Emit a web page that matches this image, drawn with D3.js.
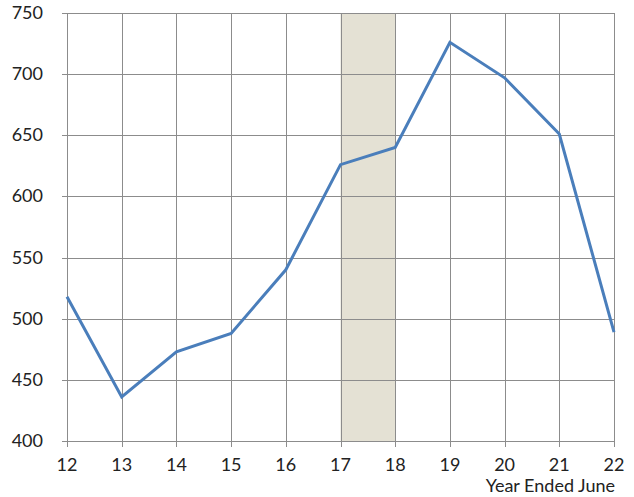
<html>
<head>
<script src="https://cdnjs.cloudflare.com/ajax/libs/d3/7.8.5/d3.min.js"></script>
<style>
body { margin: 0; background: white; }
svg text { font-family: Lato, "Open Sans", sans-serif; fill: #222; }
</style>
</head>
<body>
<svg id="canvas" width="634" height="497"></svg>
<script>
// chart data
var years = [12, 13, 14, 15, 16, 17, 18, 19, 20, 21, 22];
var values = [518, 436, 473, 488, 540, 626, 640, 726, 697, 651, 489];
var yTicks = [400, 450, 500, 550, 600, 650, 700, 750];
var band = [17, 18];
var xTitle = "Year Ended June";

var svg = d3.select("#canvas");
var plotL = 67, plotR = 614, plotT = 13, plotB = 441;

var x = d3.scaleLinear().domain([12, 22]).range([plotL, plotR]);
var y = d3.scaleLinear().domain([400, 750]).range([plotB, plotT]);

// shaded period
svg.append("rect")
    .attr("x", x(band[0]))
    .attr("y", y(750))
    .attr("width", x(band[1]) - x(band[0]))
    .attr("height", y(400) - y(750))
    .style("fill", "#e4e1d4");

// grid
svg.append("g").selectAll("line").data(yTicks).enter().append("line")
    .attr("x1", plotL - 5).attr("x2", plotR)
    .attr("y1", d => Math.round(y(d)) + 0.5).attr("y2", d => Math.round(y(d)) + 0.5)
    .style("stroke", "#8c8c8c").style("stroke-width", 1);

svg.append("g").selectAll("line").data(years).enter().append("line")
    .attr("x1", d => Math.round(x(d)) + 0.5).attr("x2", d => Math.round(x(d)) + 0.5)
    .attr("y1", plotT).attr("y2", plotB + 6)
    .style("stroke", "#8c8c8c").style("stroke-width", 1);

// labels
svg.append("g").selectAll("text").data(yTicks).enter().append("text")
    .attr("x", 43).attr("y", d => y(d) + 6)
    .attr("text-anchor", "end")
    .style("font-size", "18px")
    .text(d => d);

svg.append("g").selectAll("text").data(years).enter().append("text")
    .attr("x", d => x(d)).attr("y", 471)
    .attr("text-anchor", "middle")
    .style("font-size", "18px")
    .text(d => d);

svg.append("text")
    .attr("x", 615).attr("y", 492)
    .attr("text-anchor", "end")
    .style("font-size", "18px")
    .text(xTitle);

// the series
var line = d3.line().x((d, i) => x(years[i])).y(d => y(d));
svg.append("path")
    .datum(values)
    .attr("d", line)
    .style("fill", "none")
    .style("stroke", "#4a7ebb")
    .style("stroke-width", 3)
    .style("stroke-linejoin", "miter");
</script>
</body>
</html>
